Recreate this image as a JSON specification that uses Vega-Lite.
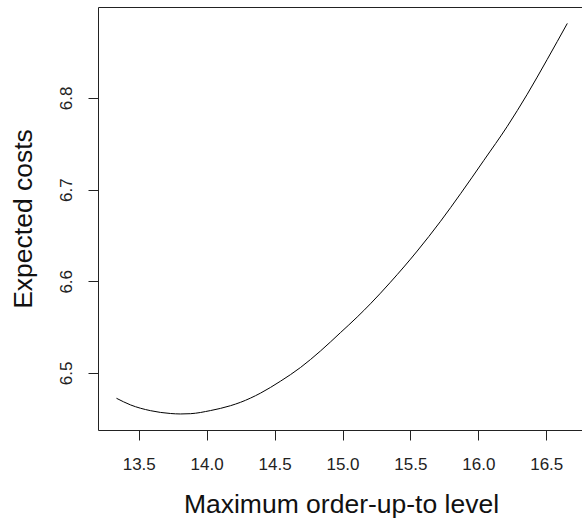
{
  "$schema": "https://vega.github.io/schema/vega-lite/v6.json",
  "description": "Expected costs against maximum order-up-to level.",
  "autosize": "none",
  "padding": {"left": 98, "top": 7, "right": 0, "bottom": 91},
  "width": 489,
  "height": 423,
  "background": "white",
  "config": {
    "view": {"stroke": "#222222", "strokeWidth": 1},
    "font": "Liberation Sans"
  },
  "data": {
    "values": [
      {"level": 13.336, "cost": 6.4724},
      {"level": 13.439, "cost": 6.4652},
      {"level": 13.586, "cost": 6.4589},
      {"level": 13.733, "cost": 6.4558},
      {"level": 13.807, "cost": 6.4553},
      {"level": 13.881, "cost": 6.4556},
      {"level": 14.028, "cost": 6.4590},
      {"level": 14.175, "cost": 6.4643},
      {"level": 14.249, "cost": 6.4680},
      {"level": 14.396, "cost": 6.4780},
      {"level": 14.543, "cost": 6.4910},
      {"level": 14.691, "cost": 6.5060},
      {"level": 14.838, "cost": 6.5240},
      {"level": 14.985, "cost": 6.5440},
      {"level": 15.108, "cost": 6.5610},
      {"level": 15.206, "cost": 6.5755},
      {"level": 15.353, "cost": 6.5990},
      {"level": 15.550, "cost": 6.6330},
      {"level": 15.722, "cost": 6.6655},
      {"level": 15.869, "cost": 6.6955},
      {"level": 16.041, "cost": 6.7320},
      {"level": 16.213, "cost": 6.7690},
      {"level": 16.360, "cost": 6.8040},
      {"level": 16.507, "cost": 6.8420},
      {"level": 16.655, "cost": 6.8813}
    ]
  },
  "mark": {"type": "line", "color": "black", "strokeWidth": 1, "interpolate": "monotone"},
  "encoding": {
    "x": {
      "field": "level",
      "type": "quantitative",
      "title": "Maximum order-up-to level",
      "scale": {"domain": [13.2, 16.8], "nice": false, "zero": false},
      "axis": {
        "values": [13.5, 14.0, 14.5, 15.0, 15.5, 16.0, 16.5],
        "format": ".1f",
        "grid": false,
        "domain": false,
        "ticks": true,
        "tickSize": 10,
        "tickColor": "#222222",
        "labelFontSize": 17,
        "labelColor": "#222222",
        "labelBaseline": "alphabetic",
        "labelPadding": 29,
        "labelFlush": false,
        "titleFontSize": 26.5,
        "titleFontWeight": "normal",
        "titleColor": "#111111",
        "titleBaseline": "alphabetic",
        "titleX": 243,
        "titleY": 82
      }
    },
    "y": {
      "field": "cost",
      "type": "quantitative",
      "title": "Expected costs",
      "scale": {"domain": [6.4378, 6.8992], "nice": false, "zero": false},
      "axis": {
        "values": [6.5, 6.6, 6.7, 6.8],
        "format": ".1f",
        "grid": false,
        "domain": false,
        "ticks": true,
        "tickSize": 10,
        "tickColor": "#222222",
        "labelFontSize": 17,
        "labelColor": "#222222",
        "labelAngle": -90,
        "labelAlign": "center",
        "labelBaseline": "alphabetic",
        "labelPadding": 17,
        "labelFlush": false,
        "titleFontSize": 26.5,
        "titleFontWeight": "normal",
        "titleColor": "#111111",
        "titleAngle": -90,
        "titleBaseline": "alphabetic",
        "titleX": -67,
        "titleY": 211.5
      }
    }
  }
}
